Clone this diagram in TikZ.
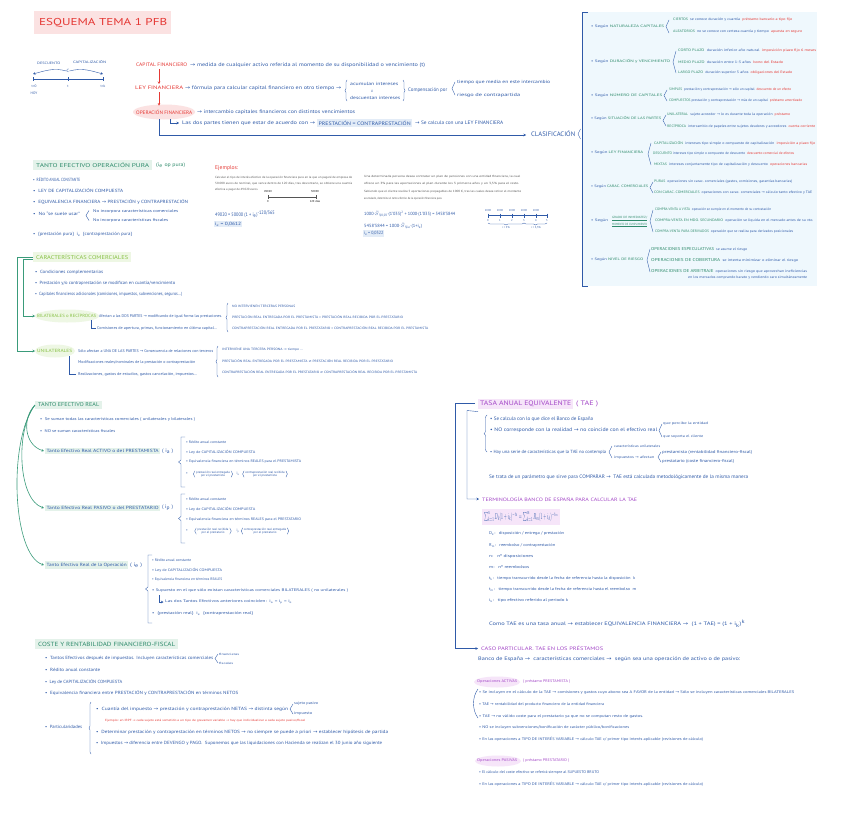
\documentclass[tikz,border=0pt]{standalone}
\usepackage{fontspec}
\usepackage{graphicx}
\setmainfont{PT Sans}
\newfontfamily\symf{DejaVu Sans}
\usetikzlibrary{arrows.meta,decorations.pathreplacing,calc}
\definecolor{ink}{HTML}{2F5AA8}
\definecolor{myred}{HTML}{E53935}
\definecolor{grn}{HTML}{2E8B6B}
\definecolor{gline}{HTML}{3A9B7A}
\definecolor{grnbg}{HTML}{E4F2EA}
\definecolor{lime}{HTML}{86C043}
\definecolor{limebg}{HTML}{EEF7E4}
\definecolor{pinkbg}{HTML}{FBE2E2}
\definecolor{panel}{HTML}{EFF8FD}
\definecolor{purp}{HTML}{A347C7}
\definecolor{purbg}{HTML}{F6E5F9}
\definecolor{bluebg}{HTML}{E3ECF7}
\definecolor{greyt}{HTML}{555555}
\newcommand{\myra}{{\symf\char"2192}}
\newcommand{\myne}{{\symf\char"2260}}
\newcommand{\myfs}[1]{\fontsize{#1}{#1}\selectfont}
\newcommand{\fw}[2]{\resizebox{#1pt}{\height}{#2}}
\newcommand{\myrd}[1]{{\color{myred}#1}}
\newcommand{\mygn}[1]{{\color{grn}#1}}
\newcommand{\sbs}[1]{\textsubscript{#1}}
\newcommand{\sps}[1]{\textsuperscript{#1}}
\newcommand{\mybrk}[4]{\draw[ink,line width=.35pt] (#1+3,#2) -- (#1,#3) -- (#1+3,#4);}
\newcommand{\mycbr}[3]{\draw[ink,line width=.35pt,decorate,decoration={brace,amplitude=2pt}] (#1,#3) -- (#1,#2);}
\newcommand{\mycbrr}[3]{\draw[ink,line width=.35pt,decorate,decoration={brace,amplitude=2pt}] (#1,#2) -- (#1,#3);}
\newcommand{\mysqb}[3]{\pgfmathsetmacro\myymid{(#2+#3)/2}\draw[ink,line width=.35pt] (#1+4,#2) -- (#1,#2) -- (#1,\myymid-2) -- (#1-2.5,\myymid) -- (#1,\myymid+2) -- (#1,#3) -- (#1+4,#3);}
\newcommand{\mybp}[1]{\draw[ink,line width=.3pt,decorate,decoration={brace,amplitude=1.5pt}] ($(#1.south west)+(-1,0)$) -- ($(#1.north west)+(-1,0)$);
  \draw[ink,line width=.3pt,decorate,decoration={brace,amplitude=1.5pt}] ($(#1.north east)+(1,0)$) -- ($(#1.south east)+(1,0)$);}
\tikzset{
  tx/.style={anchor=west,inner sep=0pt,text=ink,font=\myfs{4.5}},
  t5/.style={tx,font=\myfs{5}},
  tp/.style={tx,font=\myfs{3.5}},
  tr/.style={tx,text=myred},
  ts/.style={tx,font=\myfs{3.2}},
  hb/.style={anchor=west,inner xsep=3pt,inner ysep=2.5pt,fill=grnbg,text=grn,font=\myfs{5.5}},
  ln/.style={draw=ink,line width=.4pt},
  gl/.style={draw=gline,line width=.6pt},
  arr/.style={-{Stealth[length=2.5pt,width=2.5pt]}}
}
\begin{document}
\begin{tikzpicture}[x=1pt,y=-1pt]
\useasboundingbox (0,0) rectangle (848,819);
\fill[white] (0,0) rectangle (848,819);

% ---------- title ----------
\node[fill=pinkbg,inner sep=0pt,minimum width=137pt,minimum height=23pt,anchor=north west] (titlebg) at (34,11) {};
\node[anchor=west,inner sep=0pt,text=myred,font=\myfs{10}] (title) at (39,22.5) {\fw{128}{ESQUEMA TEMA 1 PFB}};

% ---------- small timeline ----------
\node[tx,font=\myfs{3.4}] (desc) at (37,63) {\fw{23}{DESCUENTO}};
\node[tx,font=\myfs{3.4}] (capz) at (73,62) {\fw{33}{CAPITALIZACIÓN}};
\node[tx,anchor=center] (C) at (68,71) {C};
\coordinate (p0) at (33,79); \coordinate (p1) at (68,79); \coordinate (p2) at (103,79);
\draw[ln] (p0) -- (p2);
\foreach \xx in {33,68,103} {\draw[ln] (\xx,77.3) -- (\xx,80.7);}
\draw[ln,arr] (C.west) to[out=165,in=15] (33,74);
\draw[ln,arr] (C.east) to[out=15,in=165] (103,74);
\node[tx,anchor=center,font=\myfs{3.5}] (l0) at (34,86) {t=0};
\node[tx,anchor=center,font=\myfs{3.5}] (l1) at (68,86) {t};
\node[tx,anchor=center,font=\myfs{3.5}] (l2) at (103,86) {t=k};
\node[tx,anchor=center,font=\myfs{3.5}] (hoy) at (34,93) {HOY};

% ---------- central block ----------
\node[tr,font=\myfs{5}] (capfin) at (136,65) {\fw{51}{CAPITAL FINANCIERO}};
\node[t5] (capdef) at (190,65) {\fw{235}{\myra{} medida de cualquier activo referida al momento de su disponibilidad o vencimiento (t)}};
\node[tr,font=\myfs{5}] (leyfin) at (135,88) {\fw{48}{LEY FINANCIERA}};
\node[t5] (leydef) at (185,88) {\fw{156}{\myra{} fórmula para calcular capital financiero en otro tiempo \myra}};
\mycbr{347}{80}{101}
\node[tx] (acum) at (350,84) {\fw{48}{acumulan intereses}};
\node[tx,anchor=center,font=\myfs{3.5}] (oo) at (372,91) {ó};
\node[tx] (descu) at (350,98) {\fw{50}{descuentan intereses}};
\mycbrr{403}{80}{101}
\node[t5] (comp) at (408,90) {\fw{39}{Compensación por}};
\mybrk{452}{82}{88.5}{95}
\node[tx] (tiempo) at (457,82) {\fw{93}{tiempo que media en este intercambio}};
\node[tx] (riesgo) at (457,95) {\fw{63}{riesgo de contrapartida}};
\fill[pinkbg] (164,112) ellipse [x radius=31, y radius=7.5];
\node[tr,font=\myfs{5}] (opfin) at (136,112) {\fw{56}{OPERACIÓN FINANCIERA}};
\node[t5] (opdef) at (197,112) {\fw{158}{\myra{} intercambio capitales financieros con distintos vencimientos}};
\draw[myred,line width=.5pt,arr] ($(capfin.south west)+(23,2)$) -- ($(leyfin.north west)+(24,-2)$);
\draw[myred,line width=.5pt,arr] ($(leyfin.south west)+(24,2)$) -- ($(opfin.north west)+(23,-4)$);
\node[t5] (partes) at (182,123) {\fw{133}{Las dos partes tienen que estar de acuerdo con \myra}};
\node[anchor=west,fill=bluebg,inner sep=1.5pt,text=ink,font=\myfs{5}] (prest) at (317,123) {\fw{92}{PRESTACIÓN = CONTRAPRESTACIÓN}};
\node[t5] (secalc) at (415,123) {\fw{88}{\myra{} Se calcula con una LEY FINANCIERA}};
\draw[ln,arr] ($(opfin.south west)+(34,5)$) |- ($(partes.west)+(-3,0)$);
\node[tx,font=\myfs{6.5}] (clasif) at (531,134) {\fw{44}{CLASIFICACIÓN}};
\draw[ln,arr] ($(opfin.south west)+(23,5)$) |- ($(clasif.west)+(-5,1)$);

% ---------- classification panel ----------
\fill[panel] (582,12) rectangle (817,286);
\draw[ln] (588,12) -- (582,12) -- (582,286) -- (588,286);
\draw[ln] (580.5,129) -- (578,134) -- (580.5,139);

\node[tp] (n1) at (591,27) {\fw{73}{\textbullet\ Según \mygn{NATURALEZA CAPITALES}}};
\mybrk{666}{20}{26.5}{33}
\node[tp] (n1a) at (673,20) {\fw{119}{\mygn{CIERTOS}\ \ se conoce duración y cuantía \ \myrd{préstamo bancario a tipo fijo}}};
\node[tp] (n1b) at (673,32) {\fw{129}{\mygn{ALEATORIOS}\ \ no se conoce con certeza cuantía y tiempo \ \myrd{apuesta en seguro}}};

\node[tp] (n2) at (591,61) {\fw{79}{\textbullet\ Según \mygn{DURACIÓN y VENCIMIENTO}}};
\mybrk{673}{51}{62}{73}
\node[tp] (n2a) at (678,51) {\fw{138}{\mygn{CORTO PLAZO}\ \ duración inferior año natural \ \myrd{imposición plazo fijo 6 meses}}};
\node[tp] (n2b) at (678,62) {\fw{105}{\mygn{MEDIO PLAZO}\ \ duración entre 1-5 años \ \myrd{bono del Estado}}};
\node[tp] (n2c) at (678,73) {\fw{114}{\mygn{LARGO PLAZO}\ \ duración superior 5 años \ \myrd{obligaciones del Estado}}};

\node[tp] (n3) at (591,95) {\fw{71}{\textbullet\ Según \mygn{NÚMERO DE CAPITALES}}};
\mybrk{664}{90}{95.5}{101}
\node[tp] (n3a) at (669,90) {\fw{122}{\mygn{SIMPLES}\ \ prestación y contraprestación \myra{} sólo un capital \ \myrd{descuento de un efecto}}};
\node[tp] (n3b) at (669,101) {\fw{133}{\mygn{COMPUESTOS}\ prestación y contraprestación \myra{} más de un capital \ \myrd{préstamo amortizado}}};

\node[tp] (n4) at (591,118) {\fw{70}{\textbullet\ Según \mygn{SITUACIÓN DE LAS PARTES}}};
\mybrk{663}{115}{120.5}{126}
\node[tp] (n4a) at (667,115) {\fw{123}{\mygn{UNILATERAL}\ \ sujeto acreedor \myra{} lo es durante toda la operación \ \myrd{préstamo}}};
\node[tp] (n4b) at (667,126) {\fw{148}{\mygn{RECÍPROCA}\ \ intercambio de papeles entre sujetos deudores y acreedores \ \myrd{cuenta corriente}}};

\node[tp] (n5) at (591,153) {\fw{52}{\textbullet\ Según \mygn{LEY FINANCIERA}}};
\mybrk{648}{143}{154}{165}
\node[tp] (n5a) at (654,143) {\fw{161}{\mygn{CAPITALIZACIÓN}\ \ intereses tipo simple o compuesto de capitalización \ \myrd{imposición a plazo fijo}}};
\node[tp] (n5b) at (653,154) {\fw{141}{\mygn{DESCUENTO}\ intereses tipo simple o compuesto de descuento \ \myrd{descuento comercial de efectos}}};
\node[tp] (n5c) at (654,165) {\fw{153}{\mygn{MIXTAS}\ \ intereses conjuntamente tipo de capitalización y descuento \ \myrd{operaciones bancarias}}};

\node[tp] (n6) at (591,187) {\fw{57}{\textbullet\ Según \mygn{CARAC. COMERCIALES}}};
\mybrk{650}{182}{187.5}{193}
\node[tp] (n6a) at (654,182) {\fw{138}{\mygn{PURAS}\ \ operaciones sin carac. comerciales (gastos, comisiones, garantías bancarias)}};
\node[tp] (n6b) at (654,193) {\fw{158}{\mygn{CON CARAC. COMERCIALES}\ \ operaciones con carac. comerciales \myra{} cálculo tanto efectivo y TAE}};

\node[tp] (n7) at (591,221) {\fw{17}{\textbullet\ Según}};
\node[tp,font=\myfs{3},text=grn] (n7g1) at (612,218) {\fw{35}{GRADO DE INMEDIATEZ/}};
\node[tp,font=\myfs{3},text=grn] (n7g2) at (612,224.5) {\fw{35}{MOMENTO DE CUMPLIMIENTO}};
\draw[grn,line width=.25pt] ($(n7g1.south west)+(0,0.6)$) -- ($(n7g1.south east)+(0,0.6)$);
\draw[grn,line width=.25pt] ($(n7g2.south west)+(0,0.6)$) -- ($(n7g2.south east)+(0,0.6)$);
\mybrk{650}{210}{221}{232}
\node[tp] (n7a) at (655,210) {\fw{116}{\mygn{COMPRA-VENTA A VISTA}\ \ operación se cumple en el momento de su contratación}};
\node[tp] (n7b) at (655,221) {\fw{158}{\mygn{COMPRA-VENTA EN MDO. SECUNDARIO}\ \ operación se liquida en el mercado antes de su vto.}};
\node[tp] (n7c) at (655,232) {\fw{138}{\mygn{COMPRA-VENTA PARA DERIVADOS}\ \ operación que se realiza para derivados posicionales}};

\node[tp] (n8) at (591,260) {\fw{52}{\textbullet\ Según \mygn{NIVEL DE RIESGO}}};
\mybrk{647}{249}{260}{272}
\node[tp] (n8a) at (651,249) {\fw{96}{\mygn{\myfs{4.2}OPERACIONES ESPECULATIVAS}\ \ se asume el riesgo}};
\node[tp] (n8b) at (651,260) {\fw{147}{\mygn{\myfs{4.2}OPERACIONES DE COBERTURA}\ \ se intenta minimizar o eliminar el riesgo}};
\node[tp] (n8c) at (651,271) {\fw{156}{\mygn{\myfs{4.2}OPERACIONES DE ARBITRAJE}\ \ operaciones sin riesgo que aprovechan ineficiencias}};
\node[tp] (n8d) at (688,277.5) {\fw{119}{en los mercados comprando barato y vendiendo caro simultáneamente}};

% ---------- tanto efectivo operacion pura ----------
\node[hb] (tep) at (33,165) {\fw{113}{TANTO EFECTIVO OPERACIÓN PURA}};
\node[tx,text=grn,font=\myfs{5}] (teps) at (156,165) {\fw{29}{(i\sbs{e} op pura)}};
\node[tx] (b1) at (33,180) {\fw{47}{\textbullet\ \ RÉDITO ANUAL CONSTANTE}};
\node[tx] (b2) at (33,191) {\fw{90}{\textbullet\ \ LEY DE CAPITALIZACIÓN COMPUESTA}};
\node[tx] (b3) at (33,202) {\fw{155}{\textbullet\ \ EQUIVALENCIA FINANCIERA \myra{} PRESTACIÓN y CONTRAPRESTACIÓN}};
\node[tx] (b4) at (33,214) {\fw{47}{\textbullet\ \ No ``se suele usar''}};
\mybrk{86}{210.5}{215.5}{220.5}
\node[tx,font=\myfs{4}] (b4a) at (93,211) {\fw{85}{No incorpora características comerciales}};
\node[tx,font=\myfs{4}] (b4b) at (93,220) {\fw{75}{No incorpora características fiscales}};
\node[tx] (b5) at (33,234) {\fw{99}{\textbullet\ \ \{prestación pura\}\ \ i\sbs{e}\ \ \{contraprestación pura\}}};

% ---------- ejemplos ----------
\node[tr,font=\myfs{5.5}] (ej) at (215,168) {\fw{23}{Ejemplos:}};
\node[tx,text=greyt,font=\myfs{3}] (e1) at (215,178) {\fw{137}{Calcular el tipo de interés efectivo de la operación financiera pura en la que un pagaré de empresa de}};
\node[tx,text=greyt,font=\myfs{3}] (e2) at (215,184) {\fw{137}{50.000 euros de nominal, que vence dentro de 120 días, tras descontarlo, se obtiene una cuantía}};
\node[tx,text=greyt,font=\myfs{3}] (e3) at (215,190) {\fw{43}{efectiva a pagar de 49.020 euros.}};
\node[tx,anchor=center,text=black,font=\myfs{2.8}] (x0t) at (268,192) {49020};
\node[tx,anchor=center,text=black,font=\myfs{2.8}] (x1t) at (315,191.5) {50000};
\coordinate (x0) at (268,197); \coordinate (x1) at (316,197);
\draw[greyt,line width=.5pt] (x0) -- (x1);
\draw[greyt,line width=.5pt] (268,195) -- (268,199) (316,195) -- (316,199);
\node[tx,anchor=center,text=black,font=\myfs{2.8}] (x0b) at (268,202) {0};
\node[tx,anchor=center,text=black,font=\myfs{2.8}] (x1b) at (315,202) {120 días};
\node[tx,font=\myfs{5}] (f1) at (215,214) {\fw{60}{49020 = 50000 (1 + i\sbs{e})\sps{-120/365}}};
\node[anchor=west,fill=bluebg,inner sep=1pt,text=ink,font=\myfs{4.5}] (f1r) at (214,224) {\fw{26}{i\sbs{e} = 0,0612}};

\node[tx,text=greyt,font=\myfs{3}] (q1) at (364,177) {\fw{156}{Una determinada persona desea contratar un plan de pensiones con una entidad financiera, la cual}};
\node[tx,text=greyt,font=\myfs{3}] (q2) at (364,184) {\fw{155}{ofrece un 3\% para las aportaciones al plan durante los 3 primeros años y un 3,5\% para el resto.}};
\node[tx,text=greyt,font=\myfs{3}] (q3) at (364,192) {\fw{157}{Sabiendo que el cliente realiza 5 aportaciones prepagables de 1000 €, tras las cuales desea retirar el montante}};
\node[tx,text=greyt,font=\myfs{3}] (q4) at (364,199) {\fw{78}{acumulado, determine el tanto efectivo de la operación financiera pura.}};
\node[tx,font=\myfs{4.5}] (f2) at (364,214) {\fw{91}{1000·$\ddot{S}$\sbs{3|0,03}·(1'035)\sps{2} + 1000·(1'035) = 5458'5844}};
\node[tx,font=\myfs{4.5}] (f3) at (364,226) {\fw{58}{5458'5844 = 1000·$\ddot{S}$\sbs{5|ie}·(1+i\sbs{e})}};
\node[anchor=west,fill=bluebg,inner sep=1pt,text=ink,font=\myfs{4.5}] (f3r) at (363,233.5) {\fw{19}{i\sbs{e} = 0,0322}};
\draw[ln] (488,215.5) -- (547,215.5);
\foreach \i/\xx in {0/488,1/500,2/512,3/524,4/536,5/547} {
  \draw[ln] (\xx,213.5) -- (\xx,217.5);
  \node[tx,anchor=center,font=\myfs{2.8}] (tl\i) at (\xx,220.5) {\i};
}
\foreach \i/\xx in {0/488,1/500,2/512,3/524,4/536} {
  \node[tx,anchor=center,font=\myfs{2.8}] (tv\i) at (\xx,210.5) {1000};
}
\draw[ink,line width=.3pt,decorate,decoration={brace,amplitude=2pt}] (524,223) -- (488,223);
\draw[ink,line width=.3pt,decorate,decoration={brace,amplitude=2pt}] (547,223) -- (524,223);
\node[tx,anchor=center,font=\myfs{2.8}] (ib1) at (506,228) {i = 3\%};
\node[tx,anchor=center,font=\myfs{2.8}] (ib2) at (536,228) {i = 3,5\%};

% ---------- caracteristicas comerciales ----------
\node[anchor=west,fill=limebg,text=lime,inner xsep=3pt,inner ysep=2.5pt,font=\myfs{5.5}] (cc) at (33,257) {\fw{92}{CARACTERÍSTICAS COMERCIALES}};
\node[tx] (c1) at (35,272) {\fw{68}{\textbullet\ \ Condiciones complementarias}};
\node[tx] (c2) at (35,283) {\fw{140}{\textbullet\ \ Prestación y/o contraprestación se modifican en cuantía/vencimiento}};
\node[tx] (c3) at (35,294) {\fw{147}{\textbullet\ \ Capitales financieros adicionales (comisiones, impuestos, subvenciones, seguros...)}};
\fill[limebg] (67,316) ellipse [x radius=32, y radius=6.5];
\node[tx,text=lime] (bil) at (37,316) {\fw{59}{BILATERALES o RECÍPROCAS}};
\node[tx,font=\myfs{4}] (bila) at (99,316) {\fw{123}{Afectan a las DOS PARTES \myra{} modificando de igual forma las prestaciones.}};
\node[tx,font=\myfs{4}] (bilb) at (97,328) {\fw{120}{Comisiones de apertura, primas, funcionamiento en última capital...}};
\draw[ln] (91,320) |- ($(bilb.west)+(-1.5,0)$);
\mycbr{228}{303}{332}
\node[ts] (bt1) at (232,306) {\fw{63}{NO INTERVIENEN TERCERAS PERSONAS}};
\node[ts] (bt2) at (232,317) {\fw{171}{PRESTACIÓN REAL ENTREGADA POR EL PRESTAMISTA = PRESTACIÓN REAL RECIBIDA POR EL PRESTATARIO}};
\node[ts] (bt3) at (232,328) {\fw{196}{CONTRAPRESTACIÓN REAL ENTREGADA POR EL PRESTATARIO = CONTRAPRESTACIÓN REAL RECIBIDA POR EL PRESTAMISTA}};
\fill[limebg] (55,351) ellipse [x radius=20, y radius=6.5];
\node[tx,text=lime] (unil) at (37,351) {\fw{35}{UNILATERALES}};
\node[tx,font=\myfs{4}] (ua) at (78,351) {\fw{135}{Sólo afectan a UNA DE LAS PARTES \myra{} Consecuencia de relaciones con terceros}};
\node[tx,font=\myfs{4}] (ub) at (78,362) {\fw{117}{Modificaciones reales/nominales de la prestación o contraprestación}};
\node[tx,font=\myfs{4}] (uc) at (78,374) {\fw{119}{Realizaciones, gastos de estudios, gastos cancelación, impuestos...}};
\draw[ln] (69,356) |- ($(uc.west)+(-2,0)$);
\mycbr{218}{346}{377}
\node[ts] (ut1) at (222,350) {\fw{81}{INTERVIENE UNA TERCERA PERSONA \myra{} tiempo ...}};
\node[ts] (ut2) at (222,361) {\fw{171}{PRESTACIÓN REAL ENTREGADA POR EL PRESTAMISTA \myne{} PRESTACIÓN REAL RECIBIDA POR EL PRESTATARIO}};
\node[ts] (ut3) at (222,372) {\fw{195}{CONTRAPRESTACIÓN REAL ENTREGADA POR EL PRESTATARIO \myne{} CONTRAPRESTACIÓN REAL RECIBIDA POR EL PRESTAMISTA}};
\draw[gl,arr] (cc.west) -- (17,257) |- ($(unil.west)+(-2,0)$);
\draw[gl,arr] ($(cc.west)+(0,2.5)$) -- (23,259.5) |- ($(bil.west)+(-2,0)$);

% ---------- tanto efectivo real ----------
\node[hb] (ter) at (35,405) {\fw{61}{TANTO EFECTIVO REAL}};
\node[tx,font=\myfs{4}] (r1) at (40,419) {\fw{155}{\textbullet\ \ Se suman todas las características comerciales ( unilaterales y bilaterales )}};
\node[tx,font=\myfs{4}] (r2) at (40,431) {\fw{75}{\textbullet\ \ NO se suman características fiscales}};

\node[anchor=west,fill=grnbg,text=ink,inner sep=1.5pt,font=\myfs{4.5}] (ia) at (45,451) {\fw{112}{Tanto Efectivo Real ACTIVO o del PRESTAMISTA}};
\node[tx,font=\myfs{5}] (ias) at (162,451) {\fw{11}{( i\sbs{a} )}};
\mysqb{181}{437}{487}
\node[tx,font=\myfs{3.6}] (a1) at (186,442) {\fw{40}{\textbullet\ Rédito anual constante}};
\node[tx,font=\myfs{3.6}] (a2) at (186,452) {\fw{69}{\textbullet\ Ley de CAPITALIZACIÓN COMPUESTA}};
\node[tx,font=\myfs{3.6}] (a3) at (186,462) {\fw{115}{\textbullet\ Equivalencia financiera en términos REALES para el PRESTAMISTA}};
\node[tx,font=\myfs{3.6}] (a4) at (186,474) {\textbullet};
\node[tx,anchor=center,align=center,font=\myfs{3.1}] (a4l) at (213,474) {prestación real entregada\\por el prestamista};
\node[tx,anchor=center,font=\myfs{3.6}] (a4m) at (238,474) {i\sbs{a}};
\node[tx,anchor=center,align=center,font=\myfs{3.1}] (a4r) at (265,474) {contraprestación real recibida\\por el prestamista};
\mybp{a4l} \mybp{a4r}

\node[anchor=west,fill=grnbg,text=ink,inner sep=1.5pt,font=\myfs{4.5}] (ip) at (45,508) {\fw{112}{Tanto Efectivo Real PASIVO o del PRESTATARIO}};
\node[tx,font=\myfs{5}] (ips) at (162,508) {\fw{11}{( i\sbs{p} )}};
\mysqb{181}{494}{543}
\node[tx,font=\myfs{3.6}] (p1) at (186,499) {\fw{40}{\textbullet\ Rédito anual constante}};
\node[tx,font=\myfs{3.6}] (p2) at (186,509) {\fw{69}{\textbullet\ Ley de CAPITALIZACIÓN COMPUESTA}};
\node[tx,font=\myfs{3.6}] (p3) at (186,520) {\fw{115}{\textbullet\ Equivalencia financiera en términos REALES para el PRESTATARIO}};
\node[tx,font=\myfs{3.6}] (p4) at (186,531) {\textbullet};
\node[tx,anchor=center,align=center,font=\myfs{3.1}] (p4l) at (213,531) {prestación real recibida\\por el prestatario};
\node[tx,anchor=center,font=\myfs{3.6}] (p4m) at (238,531) {i\sbs{p}};
\node[tx,anchor=center,align=center,font=\myfs{3.1}] (p4r) at (265,531) {contraprestación real entregada\\por el prestatario};
\mybp{p4l} \mybp{p4r}

\node[anchor=west,fill=grnbg,text=ink,inner sep=1.5pt,font=\myfs{4.5}] (ie) at (45,565) {\fw{80}{Tanto Efectivo Real de la Operación}};
\node[tx,font=\myfs{5}] (ies) at (130,565) {\fw{12}{( i\sbs{e} )}};
\mysqb{148}{555}{623}
\node[tx,font=\myfs{3.6}] (g1) at (152,560) {\fw{39}{\textbullet\ Rédito anual constante}};
\node[tx,font=\myfs{3.6}] (g2) at (152,570) {\fw{70}{\textbullet\ Ley de CAPITALIZACIÓN COMPUESTA}};
\node[tx,font=\myfs{3.6}] (g3) at (152,580) {\fw{70}{\textbullet\ Equivalencia financiera en términos REALES}};
\node[tx,font=\myfs{3.8}] (g4) at (152,591) {\fw{196}{\textbullet\ Supuesto en el que sólo existan características comerciales BILATERALES ( no unilaterales )}};
\node[tx,font=\myfs{3.8}] (g5) at (165,602) {\fw{127}{Las dos Tantos Efectivos anteriores coinciden:\ \ i\sbs{a} = i\sbs{p} = i\sbs{e}}};
\draw[ln,arr] (159,595) |- ($(g5.west)+(-1.5,0)$);
\node[tx,font=\myfs{4}] (g6) at (152,614) {\fw{101}{\textbullet\ \ \{prestación real\}\ \ i\sbs{e}\ \ \{contraprestación real\}}};

\draw[gl,arr] (ter.west) .. controls (22,418) and (24,445) .. ($(ia.west)+(-1,0)$);
\draw[gl,arr] (ter.west) .. controls (15,430) and (18,500) .. ($(ip.west)+(-1,0)$);
\draw[gl,arr] (ter.west) .. controls (8,440) and (12,555) .. ($(ie.west)+(-1,0)$);

% ---------- coste y rentabilidad ----------
\node[hb,font=\myfs{6}] (coste) at (35,644) {\fw{137}{COSTE Y RENTABILIDAD FINANCIERO-FISCAL}};
\node[tx] (k1) at (45,658) {\fw{168}{\textbullet\ \ Tantos Efectivos después de impuestos. Incluyen características comerciales}};
\mybrk{215}{654}{658.5}{663}
\node[tx,font=\myfs{3}] (k1a) at (219,654) {\fw{20}{financieras}};
\node[tx,font=\myfs{3}] (k1b) at (219,663) {\fw{14}{fiscales}};
\node[tx] (k2) at (45,670) {\fw{55}{\textbullet\ \ Rédito anual constante}};
\node[tx] (k3) at (45,682) {\fw{77}{\textbullet\ \ Ley de CAPITALIZACIÓN COMPUESTA}};
\node[tx] (k4) at (45,693) {\fw{193}{\textbullet\ \ Equivalencia financiera entre PRESTACIÓN y CONTRAPRESTACIÓN en términos NETOS}};
\node[tx] (k5) at (45,727) {\fw{37}{\textbullet\ \ Particularidades}};
\mycbr{91}{702}{754}
\node[tx] (k6) at (96,709) {\fw{192}{\textbullet\ \ Cuantía del impuesto \myra{} prestación y contraprestación NETAS \myra{} distinta según}};
\mybrk{290}{704}{709}{714}
\node[tx,font=\myfs{3.8}] (k6a) at (294,704) {\fw{24}{sujeto pasivo}};
\node[tx,font=\myfs{3.8}] (k6b) at (294,714) {\fw{18}{impuesto}};
\node[tr,font=\myfs{3}] (k7) at (105,721) {\fw{200}{Ejemplo: en IRPF \myra{} cada sujeto está sometido a un tipo de gravamen variable \myra{} hay que individualizar a cada sujeto pasivo/fiscal}};
\node[tx] (k8) at (96,732) {\fw{292}{\textbullet\ \ Determinar prestación y contraprestación en términos NETOS \myra{} no siempre se puede a priori \myra{} establecer hipótesis de partida}};
\node[tx] (k9) at (96,743) {\fw{286}{\textbullet\ \ Impuestos \myra{} diferencia entre DEVENGO y PAGO.\ \ Suponemos que las liquidaciones con Hacienda se realizan el 30 junio año siguiente}};

% ---------- TAE ----------
\node[anchor=west,fill=purbg,text=purp,inner xsep=2pt,inner ysep=2.5pt,font=\myfs{6.5}] (tae) at (478,404) {\fw{91}{TASA ANUAL EQUIVALENTE}};
\node[tx,text=purp,font=\myfs{6.5}] (taep) at (576,404) {\fw{22}{( TAE )}};
\draw[ink,line width=.35pt,decorate,decoration={brace,amplitude=3pt}] (487,452) -- (487,415);
\node[t5] (t1) at (490,419) {\fw{103}{\textbullet\ Se calcula con lo que dice el Banco de España}};
\node[t5] (t2) at (490,430) {\fw{167}{\textbullet\ NO corresponde con la realidad \myra{} no coincide con el efectivo real}};
\mybrk{659}{424}{430.5}{437}
\node[tx,font=\myfs{3.5}] (t2a) at (663,424) {\fw{45}{que percibe la entidad}};
\node[tx,font=\myfs{3.5}] (t2b) at (663,437) {\fw{40}{que soporta el cliente}};
\node[tx] (t3) at (490,452) {\fw{116}{\textbullet\ Hay una serie de características que la TAE no contempla}};
\mybrk{609}{446}{452}{458}
\node[tx,font=\myfs{3.5}] (t3a) at (614,446.5) {\fw{46}{características unilaterales}};
\node[tx,font=\myfs{3.5}] (t3b) at (614,458) {\fw{40}{impuestos \myra{} afectan}};
\mybrk{658}{452}{457}{462}
\node[tx,font=\myfs{4.2}] (t3c) at (662,452) {\fw{90}{prestamista (rentabilidad financiero-fiscal)}};
\node[tx,font=\myfs{4.2}] (t3d) at (662,461.5) {\fw{72}{prestatario (coste financiero-fiscal)}};
\node[t5] (t4) at (489,477) {\fw{259}{Se trata de un parámetro que sirve para COMPARAR \myra{}\ \ TAE está calculada metodológicamente de la misma manera}};
\node[tx,text=purp,font=\myfs{4.8}] (termi) at (482,499) {\fw{155}{TERMINOLOGÍA BANCO DE ESPAÑA PARA CALCULAR LA TAE}};
\node[anchor=west,fill=purbg,text=ink,inner xsep=2pt,inner ysep=3pt] (form) at (482,517) {\resizebox{74pt}{7pt}{$\sum_{k=1}^{n} D_k(1+i_k)^{-t_k} = \sum_{k=1}^{m} R_m(1+i_k)^{-t_m}$}};
\node[tx,font=\myfs{4}] (d1) at (489,534) {\fw{75}{D\sbs{k}:\ \ \ disposición / entrega / prestación}};
\node[tx,font=\myfs{4}] (d2) at (489,545.5) {\fw{66}{R\sbs{m}:\ \ \ reembolso / contraprestación}};
\node[tx,font=\myfs{4}] (d3) at (489,556.5) {\fw{44}{n:\ \ \ nº disposiciones}};
\node[tx,font=\myfs{4}] (d4) at (489,567.5) {\fw{40}{m:\ \ \ nº reembolsos}};
\node[tx,font=\myfs{4}] (d5) at (489,579) {\fw{146}{t\sbs{k}:\ \ \ tiempo transcurrido desde la fecha de referencia hasta la disposición\ \ k}};
\node[tx,font=\myfs{4}] (d6) at (489,590) {\fw{147}{t\sbs{m}:\ \ \ tiempo transcurrido desde la fecha de referencia hasta el reembolso\ \ m}};
\node[tx,font=\myfs{4}] (d7) at (489,601) {\fw{79}{i\sbs{k}:\ \ \ tipo efectivo referido al periodo\ k}};
\node[t5] (t5) at (489,624) {\fw{256}{Como TAE es una tasa anual \myra{} establecer EQUIVALENCIA FINANCIERA \myra{}\ \ (1 + TAE) = (1 + i\sbs{k})\sps{k}}};
\node[tx,text=purp,font=\myfs{5}] (caso) at (481,648.5) {\fw{122}{CASO PARTICULAR. TAE EN LOS PRÉSTAMOS}};
\node[t5] (t6) at (478,659) {\fw{262}{Banco de España \myra{}\ \ características comerciales \myra{}\ \ según sea una operación de activo o de pasivo:}};
\draw[ln,arr] ($(tae.west)+(-3,-1)$) -- (455,403) -- (455,648.5) -- ($(caso.west)+(-3,0)$);
\draw[ln,arr] ($(tae.south west)+(0,2)$) -- (467,410.5) -- (467,499) -- ($(termi.west)+(-3,0)$);

\fill[purbg] (497,682) ellipse [x radius=23, y radius=5.5];
\node[tx,text=purp,font=\myfs{3.8}] (opact) at (477,682) {\fw{40}{Operaciones ACTIVAS}};
\node[tx,text=purp,font=\myfs{3.8}] (opacts) at (523,682) {\fw{47}{( préstamo PRESTAMISTA )}};
\draw[ln] (478,689) .. controls (472,697) and (472,710) .. (478,718);
\node[tx,font=\myfs{3.8}] (o1) at (479,693) {\fw{315}{\textbullet\ Se incluyen en el cálculo de la TAE \myra{} comisiones y gastos cuyo abono sea A FAVOR de la entidad \myra{} Sólo se incluyen características comerciales BILATERALES}};
\node[tx,font=\myfs{3.8}] (o2) at (479,705) {\fw{125}{\textbullet\ TAE \myra{} rentabilidad del producto financiero de la entidad financiera}};
\node[tx,font=\myfs{3.8}] (o3) at (479,717) {\fw{164}{\textbullet\ TAE \myra{} no válido coste para el prestatario ya que no se computan resto de gastos.}};
\node[tx,font=\myfs{3.8}] (o4) at (479,728) {\fw{150}{\textbullet\ NO se incluyen subvenciones/bonificación de carácter público/bonificaciones}};
\node[tx,font=\myfs{3.8}] (o5) at (479,739) {\fw{224}{\textbullet\ En las operaciones a TIPO DE INTERÉS VARIABLE \myra{} cálculo TAE c/ primer tipo interés aplicable (revisiones de cálculo)}};

\fill[purbg] (498,761) ellipse [x radius=23, y radius=5.5];
\node[tx,text=purp,font=\myfs{3.8}] (oppas) at (477,761) {\fw{40}{Operaciones PASIVAS}};
\node[tx,text=purp,font=\myfs{3.8}] (oppass) at (523,761) {\fw{46}{( préstamo PRESTATARIO )}};
\node[tx,font=\myfs{3.8}] (pp1) at (479,773) {\fw{120}{\textbullet\ El cálculo del coste efectivo se referirá siempre al SUPUESTO BRUTO}};
\node[tx,font=\myfs{3.8}] (pp2) at (479,784) {\fw{224}{\textbullet\ En las operaciones a TIPO DE INTERÉS VARIABLE \myra{} cálculo TAE c/ primer tipo interés aplicable (revisiones de cálculo)}};
\end{tikzpicture}
\end{document}
